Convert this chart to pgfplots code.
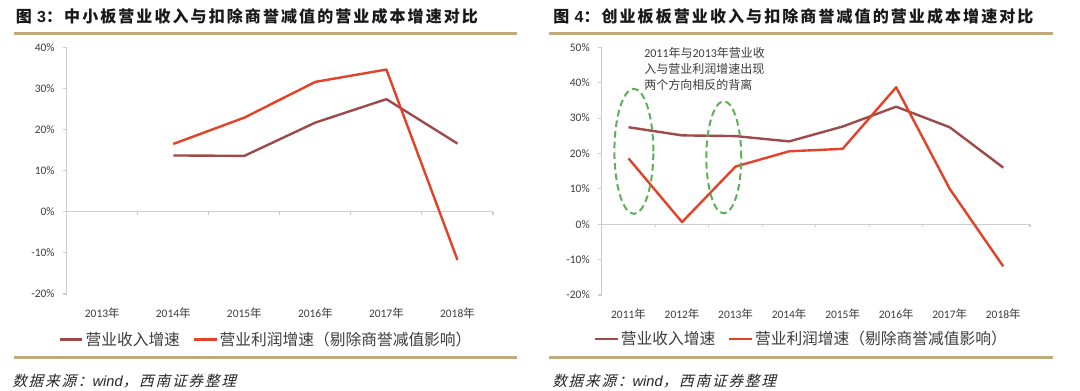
\documentclass[border=0pt]{standalone}
\usepackage{pgfplots}
\pgfplotsset{compat=1.18}
\usepackage{fontspec}
\setmainfont{Carlito}
\newfontfamily\cjk{Noto Sans CJK SC}
\newfontfamily\cjkt[LetterSpace=13]{Noto Sans CJK SC}
\newfontfamily\cjki[FakeSlant=0.25,LetterSpace=12]{Noto Sans CJK SC}
\newfontfamily\arial{Liberation Sans}
\definecolor{rev}{RGB}{158,74,74}
\definecolor{prof}{RGB}{226,66,40}
\definecolor{rulec}{RGB}{190,170,122}
\definecolor{axgray}{RGB}{205,205,205}
\definecolor{txt}{RGB}{60,60,60}
\definecolor{ellg}{RGB}{95,175,90}
\newcommand\nian{{\cjk 年}}
\pgfplotsset{
  mystyle/.style={
    scale only axis,
    clip=false,
    axis line style={draw=none},
    ytick pos=left,
    tick align=outside,
    major tick length=3pt,
    ytick style={draw=axgray,line width=0.8pt},
    xtick style={draw=none},
    ticklabel style={text=txt,font=\fontsize{8.6}{10}\selectfont},
    yticklabel style={xshift=-2.5pt},
    xticklabel style={yshift=-3.5pt},
    xtick={0,...,7},
    legend columns=2,
    legend style={draw=none,fill=none,text=txt,
      font=\cjk\fontsize{11.8}{14}\selectfont,
      /tikz/every even column/.append style={column sep=8pt},
      inner sep=0pt, nodes={inner sep=1.5pt}},
    legend image code/.code={\draw[##1] (0pt,0pt) -- (17pt,0pt);},
  }
}
\begin{document}
\begin{tikzpicture}[x=0.75pt,y=-0.75pt]
\path[fill=white,use as bounding box] (0,0) rectangle (1080,391);
% titles and rules
\node[anchor=west,inner sep=0,font=\fontsize{12}{14}\selectfont\bfseries,text=black!90] at (15.6,16.7)
  {{\cjkt 图}\hspace{4pt}{\arial\bfseries 3}{\cjkt ：中小板营业收入与扣除商誉减值的营业成本增速对比}};
\node[anchor=west,inner sep=0,font=\fontsize{12}{14}\selectfont\bfseries,text=black!90] at (553,16.7)
  {{\cjkt 图}\hspace{4pt}{\arial\bfseries 4}{\cjkt ：创业板板营业收入与扣除商誉减值的营业成本增速对比}};
\draw[rulec,line width=2.2pt] (14,33.3) -- (517,33.3);
\draw[rulec,line width=2.2pt] (549,33.3) -- (1053,33.3);
\draw[rulec,line width=2.2pt] (14,357.5) -- (517,357.5);
\draw[rulec,line width=2.2pt] (549,357.5) -- (1053,357.5);
\node[anchor=west,inner sep=0,font=\fontsize{11}{13}\selectfont,text=black!85] at (12,381)
  {{\cjki 数据来源：}{\arial\itshape wind}{\cjki ，西南证券整理}};
\node[anchor=west,inner sep=0,font=\fontsize{11}{13}\selectfont,text=black!85] at (552,381)
  {{\cjki 数据来源：}{\arial\itshape wind}{\cjki ，西南证券整理}};

% left chart
\begin{axis}[mystyle,
  at={(50.03pt,-220.5pt)}, anchor=south west,
  width=319.7pt, height=185pt,
  xmin=-0.5, xmax=5.5, ymin=-20, ymax=40,
  ytick={-20,-10,0,10,20,30,40},
  yticklabels={-20\%,-10\%,0\%,10\%,20\%,30\%,40\%},
  xticklabels={2013\nian,2014\nian,2015\nian,2016\nian,2017\nian,2018\nian},
  legend style={at={(0.4675,-0.184)},anchor=center},
]
\draw[axgray,line width=0.8pt] (rel axis cs:0,0) -- (rel axis cs:0,1);
\draw[axgray,line width=0.8pt] (axis cs:-0.5,0) -- (axis cs:5.5,0);
\pgfplotsinvokeforeach{0.5,1.5,2.5,3.5,4.5,5.5}{\draw[axgray,line width=0.8pt] (axis cs:#1,0) -- (axis cs:#1,-0.75);}
\addplot[rev,line width=1.8pt,line join=round] coordinates {(1,13.7)(2,13.6)(3,21.7)(4,27.4)(5,16.6)};
\addlegendentry{营业收入增速}
\addplot[prof,line width=1.8pt,line join=round] coordinates {(1,16.5)(2,22.9)(3,31.6)(4,34.6)(5,-11.7)};
\addlegendentry{营业利润增速（剔除商誉减值影响）}
\end{axis}

% right chart
\begin{axis}[mystyle,
  at={(451.3pt,-221.25pt)}, anchor=south west,
  width=321.2pt, height=185.8pt,
  xmin=-0.5, xmax=7.5, ymin=-20, ymax=50,
  ytick={-20,-10,0,10,20,30,40,50},
  yticklabels={-20\%,-10\%,0\%,10\%,20\%,30\%,40\%,50\%},
  xticklabels={2011\nian,2012\nian,2013\nian,2014\nian,2015\nian,2016\nian,2017\nian,2018\nian},
  legend style={at={(0.466,-0.178)},anchor=center},
]
\draw[axgray,line width=0.8pt] (rel axis cs:0,0) -- (rel axis cs:0,1);
\draw[axgray,line width=0.8pt] (axis cs:-0.5,0) -- (axis cs:7.5,0);
\pgfplotsinvokeforeach{0.5,1.5,2.5,3.5,4.5,5.5,6.5,7.5}{\draw[axgray,line width=0.8pt] (axis cs:#1,0) -- (axis cs:#1,-0.85);}
\addplot[rev,line width=1.8pt,line join=round] coordinates {(0,27.4)(1,25.1)(2,24.9)(3,23.4)(4,27.6)(5,33.2)(6,27.4)(7,16.0)};
\addlegendentry{营业收入增速}
\addplot[prof,line width=1.8pt,line join=round] coordinates {(0,18.6)(1,0.6)(2,16.3)(3,20.6)(4,21.3)(5,38.7)(6,10.0)(7,-11.9)};
\addlegendentry{营业利润增速（剔除商誉减值影响）}
\draw[ellg,line width=1.5pt,dash pattern=on 5pt off 3pt] (axis cs:0.1,20.6) ellipse [x radius=14.6pt, y radius=46.9pt];
\draw[ellg,line width=1.5pt,dash pattern=on 5pt off 3pt] (axis cs:1.78,18.9) ellipse [x radius=13.1pt, y radius=42pt];
\end{axis}
\node[anchor=north west,inner sep=0,align=left,text=txt,font=\fontsize{9}{12}\selectfont] at (644,47)
  {2011{\cjk 年与}2013{\cjk 年营业收}\\{\cjk 入与营业利润增速出现}\\{\cjk 两个方向相反的背离}};
\end{tikzpicture}
\end{document}
